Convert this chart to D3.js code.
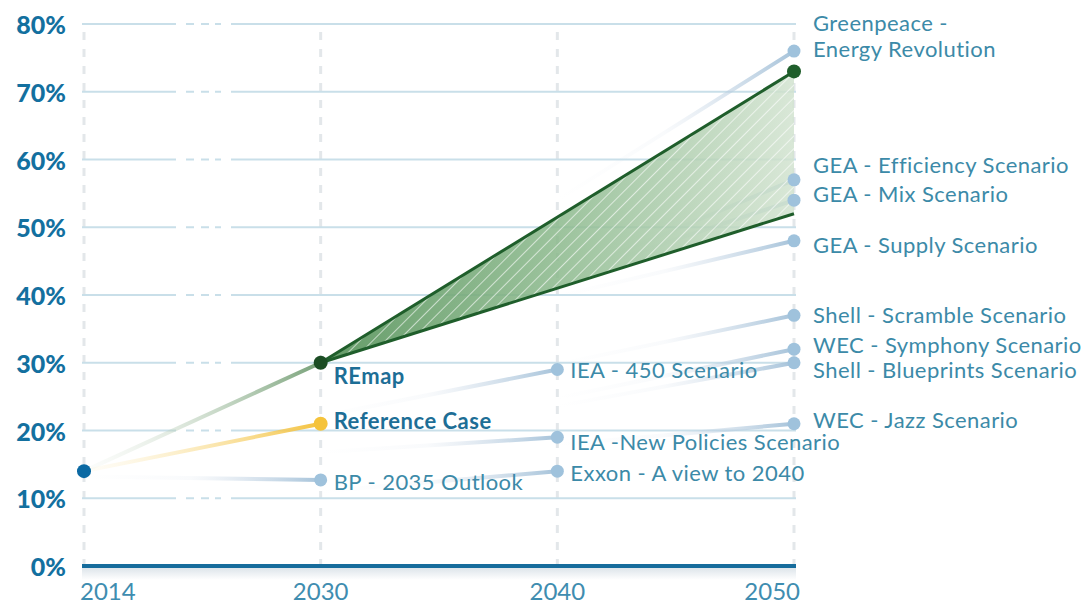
<!DOCTYPE html>
<meta charset="utf-8">
<script src="https://d3js.org/d3.v7.min.js"></script>
<style>
  body { margin: 0; background: #fff; }
  text { font-family: Lato, "Open Sans", sans-serif; }
</style>
<div id="my_dataviz"></div>
<script>

// categories and ticks
var years = [2014, 2030, 2040, 2050];
var yTicks = [0, 10, 20, 30, 40, 50, 60, 70, 80];

// REmap wedge: 2030 start, high and low 2050 ends
var startYear = 2014, startValue = 14;
var remap2030 = 30;
var remapHigh2050 = 73;
var remapLow2050 = 52;
var reference2030 = 21;

// other scenarios: name, year, value, and where the faded connector starts
var scenarioNames  = ["Greenpeace -\nEnergy Revolution", "GEA - Efficiency Scenario", "GEA - Mix Scenario",
                      "GEA - Supply Scenario", "Shell - Scramble Scenario", "WEC - Symphony Scenario",
                      "Shell - Blueprints Scenario", "WEC - Jazz Scenario", "IEA - 450 Scenario",
                      "IEA -New Policies Scenario", "Exxon - A view to 2040", "BP - 2035 Outlook"];
var scenarioYears  = [2050, 2050, 2050, 2050, 2050, 2050, 2050, 2050, 2040, 2040, 2040, 2030];
var scenarioValues = [76, 57, 54, 48, 37, 32, 30, 21, 29, 19, 14, 12.7];
var fromYears      = [2040, 2040, 2040, 2040, 2040, 2040, 2040, 2040, 2030, 2030, 2030, 2014];
var fromValues     = [54, 42.4, 42.4, 39.8, 29.8, 24.8, 23.6, 17.9, 22.1, 16.8, 11, 13.2];
// label nudges in px (layout only)
var labelDy        = [-29, -15, -7, 4, -1, -5, 7, -4, 0, 4, 1, 2];

var width = 1090, height = 606;

var svg = d3.select("#my_dataviz")
  .append("svg")
    .attr("width", width)
    .attr("height", height);

var defs = svg.append("defs");

var x = d3.scalePoint()
  .domain(years)
  .range([84, 794]);

var y = d3.scaleLinear()
  .domain([0, 80])
  .range([566, 24]);

// vertical dashed guides
svg.selectAll(".vgrid")
  .data(years)
  .enter()
  .append("line")
    .attr("x1", function(d) { return x(d); })
    .attr("x2", function(d) { return x(d); })
    .attr("y1", y(80) + 8)
    .attr("y2", y(0))
    .attr("stroke", "#e3e7ea")
    .attr("stroke-width", 3)
    .attr("stroke-dasharray", "8,9");

// horizontal grid with the broken-axis gap
svg.selectAll(".hgrid")
  .data(yTicks.filter(function(d) { return d > 0; }))
  .enter()
  .append("line")
    .attr("x1", x(2014) - 2)
    .attr("x2", x(2050) + 2)
    .attr("y1", function(d) { return y(d); })
    .attr("y2", function(d) { return y(d); })
    .attr("stroke", "#c9dfe9")
    .attr("stroke-width", 2)
    .attr("stroke-dasharray", "94,10,8,7,8,6,6,10,2000");

// baseline shadow + baseline
var sh = defs.append("linearGradient").attr("id", "shadow")
  .attr("x1", 0).attr("x2", 0).attr("y1", 0).attr("y2", 1);
sh.append("stop").attr("offset", 0).attr("stop-color", "#9fb4c4").attr("stop-opacity", 0.35);
sh.append("stop").attr("offset", 1).attr("stop-color", "#9fb4c4").attr("stop-opacity", 0);
svg.append("rect")
  .attr("x", x(2014) - 2).attr("y", y(0) + 2)
  .attr("width", x(2050) - x(2014) + 4).attr("height", 12)
  .attr("fill", "url(#shadow)");
svg.append("line")
  .attr("x1", x(2014) - 2).attr("x2", x(2050) + 2)
  .attr("y1", y(0)).attr("y2", y(0))
  .attr("stroke", "#166c9c")
  .attr("stroke-width", 4);

// Y labels
svg.selectAll(".ylab")
  .data(yTicks)
  .enter()
  .append("text")
    .attr("x", 66)
    .attr("y", function(d) { return y(d); })
    .attr("text-anchor", "end")
    .attr("dominant-baseline", "central")
    .style("font-size", "25px")
    .style("font-weight", 900)
    .style("fill", "#13709f")
    .text(function(d) { return d + "%"; });

// X labels (end ticks kept inside the plot edges)
svg.selectAll(".xlab")
  .data(years)
  .enter()
  .append("text")
    .attr("x", function(d, i) { return x(d) + (i === 0 ? -4 : i === years.length - 1 ? 6 : 0); })
    .attr("y", 600)
    .attr("text-anchor", function(d, i) { return i === 0 ? "start" : i === years.length - 1 ? "end" : "middle"; })
    .style("font-size", "24px")
    .style("fill", "#3f8db0")
    .text(function(d) { return d; });

// helper: faded gradient stroke
function fadeGrad(id, x1, y1, x2, y2, stops) {
  var g = defs.append("linearGradient").attr("id", id)
    .attr("gradientUnits", "userSpaceOnUse")
    .attr("x1", x1).attr("y1", y1).attr("x2", x2).attr("y2", y2);
  stops.forEach(function(s) {
    g.append("stop").attr("offset", s[0]).attr("stop-color", s[1]).attr("stop-opacity", s[2]);
  });
  return "url(#" + id + ")";
}

// scenario connectors
var scen = scenarioNames.map(function(n, i) {
  return {name: n, year: scenarioYears[i], value: scenarioValues[i],
          fromYear: fromYears[i], fromValue: fromValues[i], dy: labelDy[i], i: i};
});

svg.selectAll(".conn")
  .data(scen)
  .enter()
  .append("line")
    .attr("x1", function(d) { return x(d.fromYear); })
    .attr("y1", function(d) { return y(d.fromValue); })
    .attr("x2", function(d) { return x(d.year); })
    .attr("y2", function(d) { return y(d.value); })
    .attr("stroke-width", 4)
    .attr("stroke-linecap", "round")
    .attr("stroke", function(d) {
      return fadeGrad("cg" + d.i, x(d.fromYear), y(d.fromValue), x(d.year), y(d.value),
                      [[0, "#d5deea", 0], [0.45, "#ccd8e6", 0.12], [1, "#a6c3da", 1]]);
    });

// REmap wedge area
var wedgeFill = fadeGrad("wedge", x(2030), 0, x(2050), 0,
                         [[0, "#5a955e", 0.95], [0.5, "#8ab88b", 0.85], [1, "#d2e3d0", 0.85]]);
var hatch = defs.append("pattern").attr("id", "hatch")
  .attr("patternUnits", "userSpaceOnUse")
  .attr("width", 9).attr("height", 9)
  .attr("patternTransform", "rotate(45)");
hatch.append("line")
  .attr("x1", 0).attr("y1", 0).attr("x2", 0).attr("y2", 9)
  .attr("stroke", "#ffffff").attr("stroke-width", 1.6).attr("stroke-opacity", 0.75);

var wedge = [
  {year: 2030, hi: remap2030, lo: remap2030},
  {year: 2050, hi: remapHigh2050, lo: remapLow2050}
];
var area = d3.area()
  .x(function(d) { return x(d.year); })
  .y0(function(d) { return y(d.lo); })
  .y1(function(d) { return y(d.hi); });
svg.append("path").datum(wedge).attr("d", area).attr("fill", wedgeFill);
svg.append("path").datum(wedge).attr("d", area).attr("fill", "url(#hatch)");

// 2014 -> 2030 lines
svg.append("line")
  .attr("x1", x(startYear)).attr("y1", y(startValue))
  .attr("x2", x(2030)).attr("y2", y(remap2030))
  .attr("stroke-width", 4)
  .attr("stroke", fadeGrad("remapIn", x(startYear), y(startValue), x(2030), y(remap2030),
                           [[0, "#e3ebe0", 0.1], [1, "#76a077", 1]]));
svg.append("line")
  .attr("x1", x(startYear)).attr("y1", y(startValue))
  .attr("x2", x(2030)).attr("y2", y(reference2030))
  .attr("stroke-width", 4)
  .attr("stroke", fadeGrad("refIn", x(startYear), y(startValue), x(2030), y(reference2030),
                           [[0, "#fbecc0", 0.1], [1, "#f4c23e", 1]]));

// wedge edges
var edge = d3.line().x(function(d) { return x(d[0]); }).y(function(d) { return y(d[1]); });
svg.append("path").datum([[2030, remap2030], [2050, remapHigh2050]])
  .attr("d", edge).attr("fill", "none").attr("stroke", "#1f5e2b").attr("stroke-width", 3);
svg.append("path").datum([[2030, remap2030], [2050, remapLow2050]])
  .attr("d", edge).attr("fill", "none").attr("stroke", "#1f5e2b").attr("stroke-width", 3);

// scenario dots
svg.selectAll(".sdot")
  .data(scen)
  .enter()
  .append("circle")
    .attr("cx", function(d) { return x(d.year); })
    .attr("cy", function(d) { return y(d.value); })
    .attr("r", 6.5)
    .style("fill", "#9fc2dc");

// main dots
svg.append("circle").attr("cx", x(startYear)).attr("cy", y(startValue)).attr("r", 7).style("fill", "#0b69a3");
svg.append("circle").attr("cx", x(2030)).attr("cy", y(reference2030)).attr("r", 7).style("fill", "#f5c33b");
svg.append("circle").attr("cx", x(2030)).attr("cy", y(remap2030)).attr("r", 7).style("fill", "#1c4d24");
svg.append("circle").attr("cx", x(2050)).attr("cy", y(remapHigh2050)).attr("r", 7).style("fill", "#1f5e2b");

// scenario labels, one text per line
var lines = [];
scen.forEach(function(d) {
  d.name.split("\n").forEach(function(p, k) {
    lines.push({text: p, x: x(d.year) + (d.year === 2050 ? 19 : 13), y: y(d.value) + d.dy + k * 26});
  });
});
svg.selectAll(".slab")
  .data(lines)
  .enter()
  .append("text")
    .attr("x", function(d) { return d.x; })
    .attr("y", function(d) { return d.y; })
    .attr("dominant-baseline", "central")
    .style("font-size", "22px")
    .style("letter-spacing", "0.45px")
    .style("fill", "#3c8aa8")
    .text(function(d) { return d.text; });

// bold labels
svg.append("text").attr("x", x(2030) + 13).attr("y", y(remap2030) + 13)
  .attr("dominant-baseline", "central")
  .style("font-size", "22px").style("letter-spacing", "0.5px")
  .style("font-weight", "bold").style("fill", "#1d6e96")
  .text("REmap");
svg.append("text").attr("x", x(2030) + 13).attr("y", y(reference2030) - 3)
  .attr("dominant-baseline", "central")
  .style("font-size", "22px").style("letter-spacing", "0.5px")
  .style("font-weight", "bold").style("fill", "#1d6e96")
  .text("Reference Case");

</script>
